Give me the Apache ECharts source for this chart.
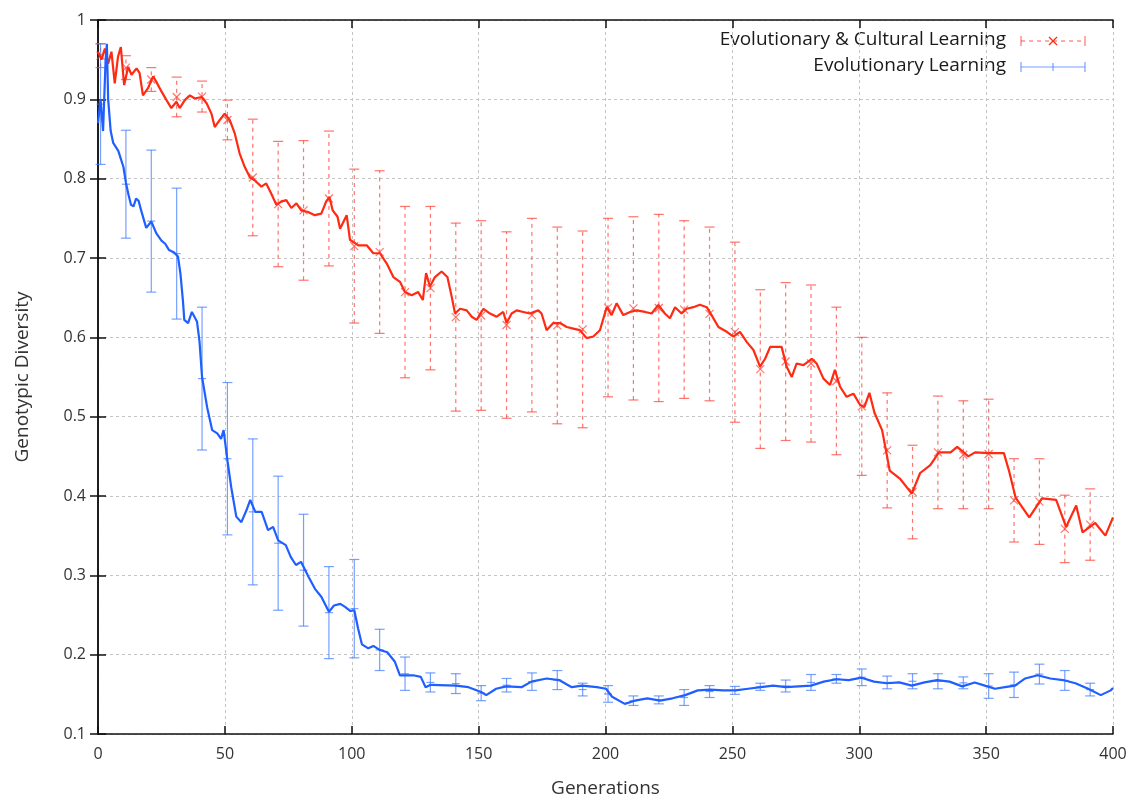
<!DOCTYPE html>
<html>
<head>
<meta charset="utf-8">
<script src="https://cdn.jsdelivr.net/npm/echarts@6/dist/echarts.min.js"></script>
<style>
  html, body { margin: 0; padding: 0; background: #fff; }
  #chart { width: 1141px; height: 803px; }
</style>
</head>
<body>
<div id="chart"></div>
<script>
// Evolutionary & Cultural Learning: mean diversity per generation
const redGen = [0, 1.4, 2.7, 4, 5.3, 6.6, 7.9, 9, 10.3, 11.9, 13.2, 15.2, 16.4, 17.7, 19.7, 21.7, 23, 25, 27, 28.9,
  30.9, 32.2, 34.2, 36.2, 38.2, 40.8, 42.8, 44.7, 46, 48, 49.9, 51.9, 53.9, 55.8, 57.8, 59.8, 61.7, 64.4, 66.3, 68.3,
  70.3, 72.2, 74.2, 76.2, 78.2, 80.1, 82.8, 85.4, 88, 89.9, 91.2, 92.5, 94.4, 95.4, 98, 99.3, 102.6, 105.9, 108.5, 111.1,
  113.8, 116.4, 119, 121, 123.6, 126.2, 128, 129.3, 130.8, 132.8, 135.4, 137.7, 139.4, 140.7, 142.7, 145.3, 147.3, 149.2, 151.9, 154.5,
  157.1, 159.7, 161, 163, 165, 167.6, 170.2, 173.5, 174.8, 176.8, 179.4, 182.1, 184.7, 187.3, 189.9, 192.6, 195.2, 197.8, 200.5, 202.4,
  204.4, 207, 209.7, 212.3, 215.6, 218.2, 220.8, 223.4, 225.4, 227.4, 230, 232, 234.6, 237.2, 239.9, 241.8, 244.5, 247.8, 250.4, 253,
  255.7, 258.3, 260.9, 262.9, 264.9, 267.5, 269.4, 271.4, 273.4, 275.3, 278, 281.3, 283.2, 285.9, 288.5, 290.4, 292.4, 295, 297.7, 300.3,
  302, 304, 306, 309, 310.5, 312, 316, 320.7, 324, 328, 331.4, 336, 338.6, 343, 345.6, 351, 357, 359, 361.6, 367,
  372, 377.6, 381.5, 385.5, 388, 393, 397, 400];
const redDiv = [0.96, 0.95, 0.964, 0.945, 0.96, 0.92, 0.954, 0.966, 0.918, 0.941, 0.931, 0.939, 0.933, 0.905, 0.914, 0.929, 0.922, 0.91, 0.899, 0.889,
  0.897, 0.889, 0.899, 0.905, 0.901, 0.903, 0.895, 0.882, 0.865, 0.874, 0.882, 0.874, 0.857, 0.832, 0.815, 0.802, 0.798, 0.79, 0.794, 0.781,
  0.767, 0.771, 0.773, 0.763, 0.769, 0.76, 0.758, 0.754, 0.756, 0.771, 0.777, 0.76, 0.752, 0.737, 0.754, 0.723, 0.716, 0.716, 0.706, 0.706,
  0.693, 0.676, 0.67, 0.657, 0.653, 0.657, 0.647, 0.681, 0.664, 0.676, 0.683, 0.676, 0.651, 0.63, 0.636, 0.634, 0.626, 0.622, 0.636, 0.63,
  0.626, 0.632, 0.618, 0.63, 0.634, 0.632, 0.63, 0.634, 0.63, 0.609, 0.618, 0.618, 0.613, 0.611, 0.609, 0.599, 0.601, 0.609, 0.638, 0.628,
  0.643, 0.628, 0.632, 0.634, 0.632, 0.63, 0.641, 0.63, 0.624, 0.638, 0.63, 0.636, 0.638, 0.641, 0.638, 0.628, 0.613, 0.607, 0.601, 0.607,
  0.594, 0.584, 0.563, 0.573, 0.588, 0.588, 0.588, 0.563, 0.55, 0.567, 0.565, 0.573, 0.567, 0.548, 0.54, 0.559, 0.538, 0.525, 0.529, 0.515,
  0.512, 0.53, 0.505, 0.483, 0.458, 0.432, 0.422, 0.403, 0.429, 0.439, 0.455, 0.455, 0.462, 0.45, 0.455, 0.454, 0.454, 0.432, 0.398, 0.373,
  0.397, 0.395, 0.361, 0.388, 0.354, 0.366, 0.35, 0.373];

// Evolutionary Learning: mean diversity per generation
const blueGen = [0, 1, 2, 3, 3.5, 4, 5, 6, 7, 8, 9, 10, 11, 12, 13, 14, 15, 16, 17, 19,
  21, 23, 25, 26.5, 28, 30, 31.5, 32.5, 33.5, 34, 35.5, 37, 39, 40, 41, 43, 45, 47, 48.5, 49.5,
  51, 52.5, 54.5, 56.5, 58.5, 60, 62, 64.5, 67, 69, 71, 74, 76, 78, 80, 83, 85.5, 88, 91, 93,
  95.5, 97.5, 99.5, 101, 102.5, 104, 106.5, 108.5, 111, 114, 117, 119, 124.2, 127.2, 129.1, 131.1, 141, 146, 151, 153,
  156.9, 160.9, 166.9, 170.8, 176.8, 181.7, 186.7, 190.7, 196.6, 200.2, 202.6, 207.6, 211.5, 216.5, 221.5, 226.4, 231.4, 236.4, 241.3, 246.3,
  251.2, 256.2, 261.2, 266.1, 271.1, 276.1, 281, 286, 291, 295.9, 300.9, 305.8, 310.8, 315.8, 320.7, 325.7, 330.7, 335.6, 340.6, 345.5,
  349.5, 353.5, 357.4, 361.4, 365.4, 370.3, 375.3, 380.3, 385.2, 390.2, 395.2, 399.1, 400];
const blueDiv = [0.87, 0.9, 0.86, 0.95, 0.97, 0.9, 0.86, 0.845, 0.84, 0.835, 0.825, 0.815, 0.795, 0.78, 0.767, 0.765, 0.775, 0.772, 0.76, 0.738,
  0.746, 0.731, 0.722, 0.718, 0.71, 0.707, 0.702, 0.68, 0.645, 0.622, 0.618, 0.632, 0.62, 0.595, 0.55, 0.512, 0.483, 0.479, 0.472, 0.483,
  0.445, 0.411, 0.374, 0.367, 0.382, 0.395, 0.38, 0.38, 0.357, 0.361, 0.344, 0.338, 0.323, 0.313, 0.317, 0.298, 0.283, 0.273, 0.254, 0.262,
  0.264, 0.26, 0.255, 0.256, 0.233, 0.213, 0.208, 0.211, 0.206, 0.203, 0.191, 0.174, 0.174, 0.172, 0.159, 0.162, 0.161, 0.159, 0.153, 0.149,
  0.157, 0.16, 0.159, 0.166, 0.17, 0.168, 0.159, 0.161, 0.159, 0.157, 0.147, 0.138, 0.142, 0.145, 0.142, 0.145, 0.149, 0.155, 0.156, 0.155,
  0.155, 0.157, 0.159, 0.161, 0.159, 0.16, 0.161, 0.166, 0.169, 0.168, 0.171, 0.166, 0.164, 0.165, 0.161, 0.165, 0.168, 0.166, 0.16, 0.165,
  0.161, 0.157, 0.159, 0.161, 0.17, 0.174, 0.17, 0.168, 0.164, 0.157, 0.149, 0.155, 0.158];

// error bars, every 10 generations
const barGen = [1, 11, 21, 31, 41, 51, 61, 71, 81, 91, 101, 111, 121, 131, 141, 151, 161, 171, 181, 191,
  201, 211, 221, 231, 241, 251, 261, 271, 281, 291, 301, 311, 321, 331, 341, 351, 361, 371, 381, 391];
const redLo = [0.94, 0.925, 0.91, 0.878, 0.884, 0.849, 0.728, 0.689, 0.672, 0.69, 0.618, 0.605, 0.549, 0.559, 0.507, 0.508, 0.498, 0.506, 0.491, 0.486,
  0.525, 0.521, 0.519, 0.523, 0.52, 0.493, 0.46, 0.47, 0.468, 0.452, 0.426, 0.385, 0.346, 0.384, 0.384, 0.384, 0.342, 0.339, 0.316, 0.319];
const redHi = [0.97, 0.955, 0.94, 0.928, 0.923, 0.899, 0.875, 0.847, 0.848, 0.86, 0.812, 0.81, 0.765, 0.765, 0.744, 0.747, 0.733, 0.75, 0.739, 0.734,
  0.75, 0.752, 0.755, 0.747, 0.739, 0.72, 0.66, 0.669, 0.666, 0.638, 0.6, 0.53, 0.464, 0.526, 0.52, 0.522, 0.447, 0.447, 0.401, 0.409];
const blueLo = [0.818, 0.725, 0.657, 0.623, 0.458, 0.351, 0.288, 0.256, 0.236, 0.195, 0.196, 0.18, 0.155, 0.153, 0.151, 0.142, 0.153, 0.155, 0.156, 0.148,
  0.14, 0.136, 0.138, 0.136, 0.146, 0.15, 0.155, 0.153, 0.155, 0.164, 0.161, 0.157, 0.157, 0.157, 0.157, 0.145, 0.146, 0.163, 0.155, 0.148];
const blueHi = [0.97, 0.861, 0.836, 0.788, 0.638, 0.543, 0.472, 0.425, 0.377, 0.311, 0.32, 0.232, 0.197, 0.177, 0.176, 0.161, 0.17, 0.177, 0.18, 0.164,
  0.161, 0.148, 0.148, 0.156, 0.161, 0.16, 0.164, 0.168, 0.175, 0.175, 0.182, 0.173, 0.176, 0.176, 0.172, 0.176, 0.178, 0.188, 0.18, 0.164];

const RED = "#ff2a12";
const RED_BAR = "rgba(255,70,60,0.75)";
const BLUE = "#1f5fff";
const BLUE_BAR = "rgba(60,120,255,0.7)";
const FONT = "Open Sans";

const zip = (a, b) => a.map((v, i) => [v, b[i]]);
const barData = (lo, hi) => barGen.map((g, i) => [g, lo[i], hi[i]]);

// vertical error bar with caps and a point marker
const errorBar = (color, dashed, marker) => (params, api) => {
  const x = api.value(0);
  const lo = api.coord([x, api.value(1)]);
  const hi = api.coord([x, api.value(2)]);
  const mid = api.coord([x, (api.value(1) + api.value(2)) / 2]);
  const cap = 5;
  const style = { stroke: color, lineWidth: 1.2, lineDash: dashed ? [4, 4] : null };
  const children = [
    { type: "line", shape: { x1: lo[0], y1: lo[1], x2: hi[0], y2: hi[1] }, style },
    { type: "line", shape: { x1: lo[0] - cap, y1: lo[1], x2: lo[0] + cap, y2: lo[1] }, style: { stroke: color, lineWidth: 1.2 } },
    { type: "line", shape: { x1: hi[0] - cap, y1: hi[1], x2: hi[0] + cap, y2: hi[1] }, style: { stroke: color, lineWidth: 1.2 } },
  ];
  const m = 4;
  if (marker === "x") {
    children.push(
      { type: "line", shape: { x1: mid[0] - m, y1: mid[1] - m, x2: mid[0] + m, y2: mid[1] + m }, style: { stroke: color, lineWidth: 1.2 } },
      { type: "line", shape: { x1: mid[0] - m, y1: mid[1] + m, x2: mid[0] + m, y2: mid[1] - m }, style: { stroke: color, lineWidth: 1.2 } }
    );
  } else {
    children.push(
      { type: "line", shape: { x1: mid[0] - m, y1: mid[1], x2: mid[0] + m, y2: mid[1] }, style: { stroke: color, lineWidth: 1.2 } }
    );
  }
  return { type: "group", children };
};

const chart = echarts.init(document.getElementById("chart"));

const axisBase = {
  axisLine: { show: true, lineStyle: { color: "#111", width: 1.5 } },
  axisTick: { show: true, inside: true, length: 8, lineStyle: { color: "#111", width: 1.5 } },
};

const option = {
  backgroundColor: "#fff",
  animation: false,
  grid: { left: 98, right: 28, top: 20, bottom: 69 },
  xAxis: [
    {
      ...axisBase,
      type: "value",
      min: 0,
      max: 400,
      interval: 50,
      name: "Generations",
      nameLocation: "middle",
      nameGap: 45,
      nameTextStyle: { fontFamily: FONT, fontSize: 19, color: "#333" },
      axisLabel: { fontFamily: FONT, fontSize: 16, color: "#333", margin: 12 },
      splitLine: { show: true, lineStyle: { color: "#c4c4c4", type: [3, 3], width: 1 } },
    },
    {
      ...axisBase,
      type: "value",
      position: "top",
      min: 0,
      max: 400,
      interval: 50,
      axisLabel: { show: false },
      splitLine: { show: false },
    },
  ],
  yAxis: [
    {
      ...axisBase,
      type: "value",
      min: 0.1,
      max: 1,
      interval: 0.1,
      name: "Genotypic Diversity",
      nameLocation: "middle",
      nameGap: 66,
      nameTextStyle: { fontFamily: FONT, fontSize: 19, color: "#333" },
      axisLabel: { fontFamily: FONT, fontSize: 16, color: "#333", margin: 12 },
      splitLine: { show: true, lineStyle: { color: "#c4c4c4", type: [3, 3], width: 1 } },
    },
    {
      ...axisBase,
      type: "value",
      position: "right",
      min: 0.1,
      max: 1,
      interval: 0.1,
      axisLabel: { show: false },
      splitLine: { show: false },
    },
  ],
  series: [
    {
      name: "Evolutionary & Cultural Learning bars",
      type: "custom",
      renderItem: errorBar(RED_BAR, true, "x"),
      data: barData(redLo, redHi),
      z: 2,
    },
    {
      name: "Evolutionary Learning bars",
      type: "custom",
      renderItem: errorBar(BLUE_BAR, false, "+"),
      data: barData(blueLo, blueHi),
      z: 2,
    },
    {
      name: "Evolutionary & Cultural Learning",
      type: "line",
      data: zip(redGen, redDiv),
      showSymbol: false,
      lineStyle: { color: RED, width: 2.2 },
      z: 3,
    },
    {
      name: "Evolutionary Learning",
      type: "line",
      data: zip(blueGen, blueDiv),
      showSymbol: false,
      lineStyle: { color: BLUE, width: 2.2 },
      z: 3,
    },
  ],
  graphic: [
    { type: "text", x: 1006, y: 40, style: { text: "Evolutionary & Cultural Learning", fontFamily: FONT, fontSize: 19, fill: "#1a1a1a", align: "right", verticalAlign: "middle" } },
    { type: "text", x: 1006, y: 66, style: { text: "Evolutionary Learning", fontFamily: FONT, fontSize: 19, fill: "#1a1a1a", align: "right", verticalAlign: "middle" } },
    { type: "line", shape: { x1: 1021, y1: 41, x2: 1085, y2: 41 }, style: { stroke: RED_BAR, lineWidth: 1.2, lineDash: [4, 4] } },
    { type: "line", shape: { x1: 1085, y1: 36, x2: 1085, y2: 46 }, style: { stroke: RED_BAR, lineWidth: 1.2 } },
    { type: "line", shape: { x1: 1021, y1: 36, x2: 1021, y2: 46 }, style: { stroke: RED_BAR, lineWidth: 1.2 } },
    { type: "line", shape: { x1: 1049, y1: 37, x2: 1057, y2: 45 }, style: { stroke: RED, lineWidth: 1.2 } },
    { type: "line", shape: { x1: 1049, y1: 45, x2: 1057, y2: 37 }, style: { stroke: RED, lineWidth: 1.2 } },
    { type: "line", shape: { x1: 1021, y1: 67, x2: 1085, y2: 67 }, style: { stroke: BLUE_BAR, lineWidth: 1.2 } },
    { type: "line", shape: { x1: 1021, y1: 62, x2: 1021, y2: 72 }, style: { stroke: BLUE_BAR, lineWidth: 1.2 } },
    { type: "line", shape: { x1: 1085, y1: 62, x2: 1085, y2: 72 }, style: { stroke: BLUE_BAR, lineWidth: 1.2 } },
    { type: "line", shape: { x1: 1053, y1: 63, x2: 1053, y2: 71 }, style: { stroke: BLUE_BAR, lineWidth: 1.2 } },
  ],
};

chart.setOption(option);
window.addEventListener("resize", () => chart.resize());
</script>
</body>
</html>
